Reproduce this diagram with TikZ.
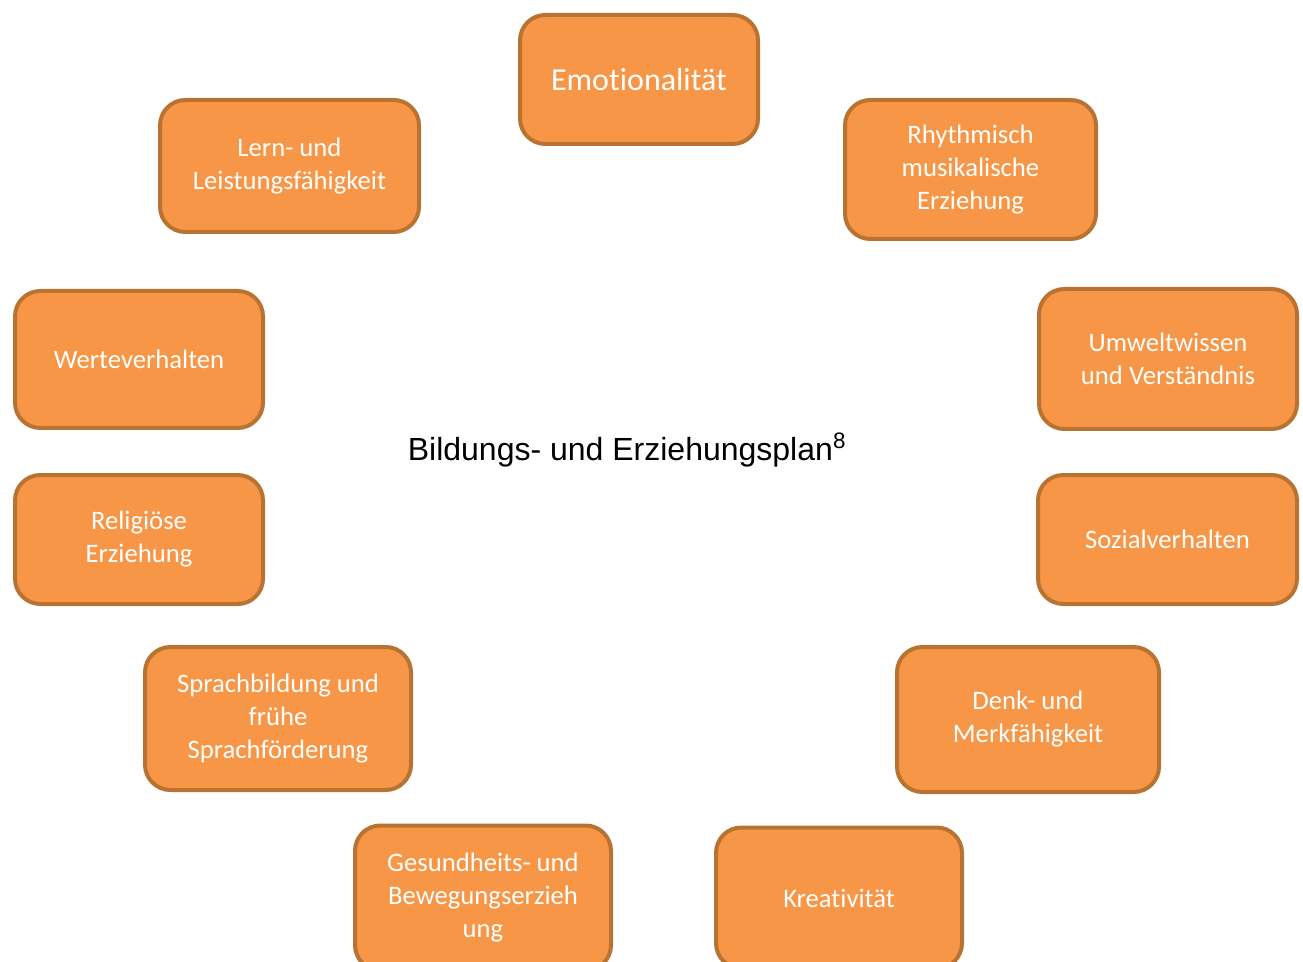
\documentclass[tikz,border=0pt]{standalone}
\usepackage{fontspec}
\setmainfont{Carlito}[Ligatures=NoCommon]
\newfontfamily\arialfont{Liberation Sans}
\definecolor{boxfill}{HTML}{F79646}
\definecolor{boxline}{HTML}{B87333}
\begin{document}
\begin{tikzpicture}[x=0.75pt,y=-0.75pt,
  box/.style={draw=boxline, fill=boxfill, line width=3pt, rounded corners=19pt,
    text=white, align=center, font=\fontsize{20}{24.75}\selectfont, inner sep=0pt},
  bigbox/.style={box, font=\fontsize{24}{28}\selectfont}]
\useasboundingbox (0,0) rectangle (1303,962);
\clip (0,0) rectangle (1303,962);
\node[bigbox, minimum width=238*0.75pt, minimum height=129*0.75pt] (emo) at (639,79.5) {Emotionalität};
\node[box, minimum width=259*0.75pt, minimum height=132*0.75pt] (lern) at (289.5,166) {Lern- und\\Leistungsfähigkeit};
\node[box, minimum width=251*0.75pt, minimum height=139*0.75pt] (rhy) at (970.5,169.5) {Rhythmisch\\musikalische\\Erziehung};
\node[box, minimum width=248*0.75pt, minimum height=137*0.75pt] (wert) at (139,359.5) {Werteverhalten};
\node[box, minimum width=258*0.75pt, minimum height=140*0.75pt] (umw) at (1168,359) {Umweltwissen\\und Verständnis};
\node[box, minimum width=248*0.75pt, minimum height=129*0.75pt] (rel) at (139,539.5) {Religiöse\\Erziehung};
\node[box, minimum width=259*0.75pt, minimum height=129*0.75pt] (soz) at (1167.5,539.5) {Sozialverhalten};
\node[box, minimum width=266*0.75pt, minimum height=143*0.75pt] (spr) at (278,718.5) {Sprachbildung und\\frühe\\Sprachförderung};
\node[box, minimum width=262*0.75pt, minimum height=145*0.75pt] (denk) at (1028,719.5) {Denk- und\\Merkfähigkeit};
\node[box, minimum width=256*0.75pt, minimum height=145*0.75pt] (ges) at (483,898) {Gesundheits- und\\Bewegungserzieh\\ung};
\node[box, minimum width=246*0.75pt, minimum height=141*0.75pt] (kre) at (839,898) {Kreativität};
\node[font=\arialfont\fontsize{24}{28}\selectfont, inner sep=0pt] (title) at (627,450) {Bildungs- und Erziehungsplan\textsuperscript{8}};
\end{tikzpicture}
\end{document}
